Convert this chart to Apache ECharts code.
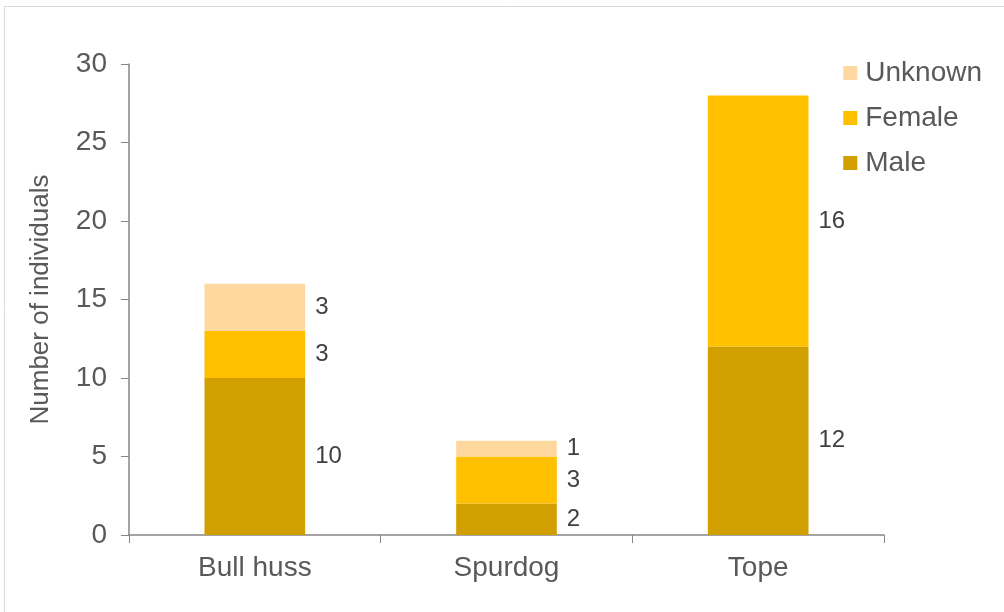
<!DOCTYPE html>
<html><head><meta charset="utf-8">
<script src="https://cdn.jsdelivr.net/npm/echarts@6/dist/echarts.min.js"></script>
<style>html,body{margin:0;padding:0;background:#fff}#c{width:1004px;height:612px}</style>
</head><body><div id="c"></div>
<script>
const categories = ["Bull huss", "Spurdog", "Tope"];
const male = [10, 2, 12];
const female = [3, 3, 16];
const unknown = [3, 1, 0];
const yTicks = [0, 5, 10, 15, 20, 25, 30];

const txt = '#595959';
const font = 'Liberation Sans, Arial, sans-serif';
const chart = echarts.init(document.getElementById('c'), null, {renderer: 'canvas'});
function lbl() {
  return {show: true, position: 'right', distance: 10, color: '#404040', fontSize: 24, fontFamily: font,
    formatter: p => p.value > 0 ? String(p.value) : ''};
}
chart.setOption({
  animation: false,
  backgroundColor: '#fff',
  graphic: [{type: 'rect', shape: {x: 4.5, y: 6.5, width: 1010, height: 620},
    style: {fill: 'none', stroke: '#d9d9d9', lineWidth: 1}, silent: true}],
  grid: {left: 129, right: 120, top: 64, bottom: 77},
  legend: {
    orient: 'vertical', right: 17, top: 54, itemWidth: 14, itemHeight: 14, itemGap: 17,
    icon: 'rect', data: ['Unknown', 'Female', 'Male'],
    textStyle: {color: txt, fontSize: 28, fontFamily: font, padding: [0, 0, 0, 3]}
  },
  xAxis: {
    type: 'category', data: categories,
    axisLine: {lineStyle: {color: '#868686', width: 1.5}},
    axisTick: {show: true, length: 8, lineStyle: {color: '#868686'}},
    axisLabel: {color: txt, fontSize: 28, fontFamily: font, margin: 19}
  },
  yAxis: {
    type: 'value', min: 0, max: 30, interval: 5,
    name: 'Number of individuals', nameLocation: 'middle', nameGap: 75, nameRotate: 90,
    nameTextStyle: {color: txt, fontSize: 26, fontFamily: font},
    axisLine: {show: true, lineStyle: {color: '#868686', width: 1.5}},
    axisTick: {show: true, length: 8, lineStyle: {color: '#868686'}},
    splitLine: {show: false},
    axisLabel: {color: txt, fontSize: 28, fontFamily: font, margin: 22,
      formatter: v => yTicks.includes(v) ? String(v) : ''}
  },
  series: [
    {name: 'Male', type: 'bar', stack: 's', data: male, barWidth: '40%',
      itemStyle: {color: '#D29F00'}, label: lbl()},
    {name: 'Female', type: 'bar', stack: 's', data: female, barWidth: '40%',
      itemStyle: {color: '#FFC000'}, label: lbl()},
    {name: 'Unknown', type: 'bar', stack: 's', data: unknown, barWidth: '40%',
      itemStyle: {color: '#FFD89F'}, label: lbl()}
  ]
});
</script></body></html>
